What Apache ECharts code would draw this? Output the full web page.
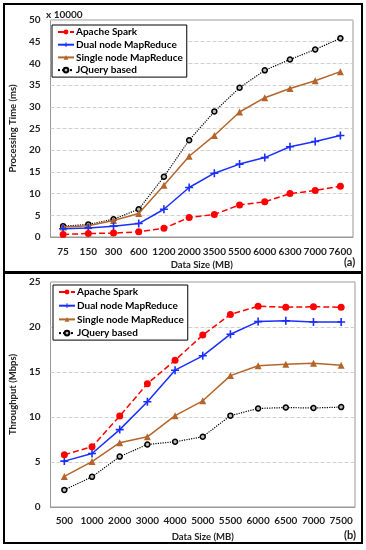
<!DOCTYPE html>
<html><head><meta charset="utf-8">
<script src="https://cdn.jsdelivr.net/npm/echarts@6/dist/echarts.min.js"></script>
<style>html,body{margin:0;padding:0;background:#fff}#c{width:366px;height:550px}</style>
</head><body><div id="c"></div>
<script>
var seriesNames = ['Apache Spark', 'Dual node MapReduce', 'Single node MapReduce', 'JQuery based'];

// Panel (a): processing time (x 10000 ms)
var catsA = ['75','150','300','600','1200','2000','3500','5500','6000','6300','7000','7600'];
var sparkA  = [0.6, 0.8, 0.9, 1.2, 2.0, 4.5, 5.2, 7.4, 8.1, 10.0, 10.7, 11.7];
var dualA   = [1.9, 2.1, 2.5, 3.1, 6.4, 11.4, 14.7, 16.8, 18.3, 20.8, 22.0, 23.4];
var singleA = [2.3, 2.6, 3.8, 5.4, 11.9, 18.6, 23.4, 28.8, 32.1, 34.2, 36.0, 38.1];
var jqA     = [2.5, 2.9, 4.1, 6.4, 13.9, 22.3, 28.9, 34.4, 38.4, 40.9, 43.2, 45.8];
var ticksA  = [0, 5, 10, 15, 20, 25, 30, 35, 40, 45, 50];

// Panel (b): throughput (Mbps)
var catsB = ['500','1000','2000','3000','4000','5000','5500','6000','6500','7000','7500'];
var sparkB  = [5.8, 6.7, 10.1, 13.7, 16.3, 19.1, 21.4, 22.3, 22.2, 22.25, 22.2];
var dualB   = [5.1, 5.95, 8.6, 11.7, 15.2, 16.8, 19.2, 20.6, 20.7, 20.55, 20.55];
var singleB = [3.4, 5.05, 7.15, 7.8, 10.15, 11.8, 14.6, 15.7, 15.85, 15.97, 15.75];
var jqB     = [1.9, 3.35, 5.6, 6.95, 7.25, 7.8, 10.15, 10.95, 11.05, 11.0, 11.1];
var ticksB  = [0, 5, 10, 15, 20, 25];

var FONT = 'Lato';
var plusPath = 'path://M-1,-5H1V-1H5V1H1V5H-1V1H-5V-1H-1Z';

function mkSeries(idx, sets) {
  var d = [
    {color:'#ff0000', type:'dashed', symbol:'circle', size:7, fill:'#ff0000', bc:'#ff0000', bw:0, lw:1.5},
    {color:'#1a2fff', type:'solid', symbol:plusPath, size:8, fill:'#1a2fff', bc:'#1a2fff', bw:0, lw:1.5},
    {color:'#b5652b', type:'solid', symbol:'triangle', size:7, fill:'#b5652b', bc:'#b5652b', bw:0, lw:1.5},
    {color:'#000000', type:'dotted', symbol:'circle', size:5, fill:'#bbbbbb', bc:'#000000', bw:1.5, lw:1.2}
  ];
  var out = [];
  for (var i = 0; i < 4; i++) {
    out.push({
      name: seriesNames[i], type:'line', xAxisIndex: idx, yAxisIndex: idx,
      data: sets[i], symbol: d[i].symbol, symbolSize: d[i].size, showAllSymbol: true,
      lineStyle: {color: d[i].color, type: d[i].type, width: d[i].lw},
      itemStyle: {color: d[i].fill, borderColor: d[i].bc, borderWidth: d[i].bw},
      emphasis: {disabled: true}, animation: false, z: 10 - i
    });
  }
  return out;
}

var chart = echarts.init(document.getElementById('c'), null, {renderer:'canvas'});
var tickStyle = {fontFamily: FONT, fontWeight:'bold', fontSize: 10, color:'#222'};
var nameStyle = {fontFamily: FONT, fontWeight:'bold', fontSize: 9.5, color:'#222'};
function legendCommon(gap) {
  return {
    orient:'vertical', data: seriesNames, itemWidth: 16, itemHeight: 6, itemGap: gap,
    textStyle: {fontFamily: FONT, fontWeight:'bold', fontSize: 10, color:'#000', padding:[0,0,0,-3]},
    borderColor:'#000', borderWidth:1, padding:[2,4,2,5], backgroundColor:'#fff'
  };
}
var option = {
  animation: false,
  grid: [
    {left: 50, top: 20, width: 303, height: 217, show: true, borderColor: '#999', borderWidth: 1},
    {left: 49, top: 282, width: 306, height: 225, show: true, borderColor: '#999', borderWidth: 1}
  ],
  xAxis: [
    {type:'category', gridIndex:0, data: catsA, boundaryGap: true,
     axisLine:{show:true, lineStyle:{color:'#999'}}, axisTick:{show:false},
     axisLabel: Object.assign({margin: 10, interval: 0}, tickStyle),
     name:'Data Size (MB)', nameLocation:'middle', nameGap: 23, nameTextStyle: nameStyle},
    {type:'category', gridIndex:1, data: catsB, boundaryGap: true,
     axisLine:{show:true, lineStyle:{color:'#999'}}, axisTick:{show:false},
     axisLabel: Object.assign({margin: 9, interval: 0}, tickStyle),
     name:'Data Size (MB)', nameLocation:'middle', nameGap: 25, nameTextStyle: nameStyle}
  ],
  yAxis: [
    {type:'value', gridIndex:0, min: ticksA[0], max: ticksA[ticksA.length-1], interval: 5,
     axisLine:{show:false}, axisTick:{show:false},
     splitLine:{show:true, lineStyle:{color:'#d0d0d0', type:'dashed'}},
     axisLabel: Object.assign({margin: 10}, tickStyle),
     name:'Processing Time (ms)', nameLocation:'middle', nameGap: 28, nameRotate: 90, nameTextStyle: nameStyle},
    {type:'value', gridIndex:1, min: ticksB[0], max: ticksB[ticksB.length-1], interval: 5,
     axisLine:{show:false}, axisTick:{show:false},
     splitLine:{show:true, lineStyle:{color:'#d0d0d0', type:'dashed'}},
     axisLabel: Object.assign({margin: 10}, tickStyle),
     name:'Throughput (Mbps)', nameLocation:'middle', nameGap: 27, nameRotate: 90, nameTextStyle: nameStyle}
  ],
  legend: [
    Object.assign({left: 52, top: 25}, legendCommon(2.7)),
    Object.assign({left: 53, top: 285}, legendCommon(3.7))
  ],
  graphic: [
    {type:'rect', shape:{x:4, y:4, width:358, height:268}, style:{fill:'none', stroke:'#000', lineWidth:2}, z:-1},
    {type:'rect', shape:{x:4, y:273, width:358, height:270}, style:{fill:'none', stroke:'#000', lineWidth:2}, z:-1},
    {type:'text', left: 46, top: 10, style:{text:'x 10000', font:'bold 10px ' + FONT, fill:'#222'}},
    {type:'text', left: 344, top: 257, style:{text:'(a)', font:'bold 11px ' + FONT, fill:'#222'}},
    {type:'text', left: 344, top: 530, style:{text:'(b)', font:'bold 11px ' + FONT, fill:'#222'}}
  ],
  series: mkSeries(0, [sparkA, dualA, singleA, jqA]).concat(mkSeries(1, [sparkB, dualB, singleB, jqB]))
};
chart.setOption(option);
</script></body></html>
